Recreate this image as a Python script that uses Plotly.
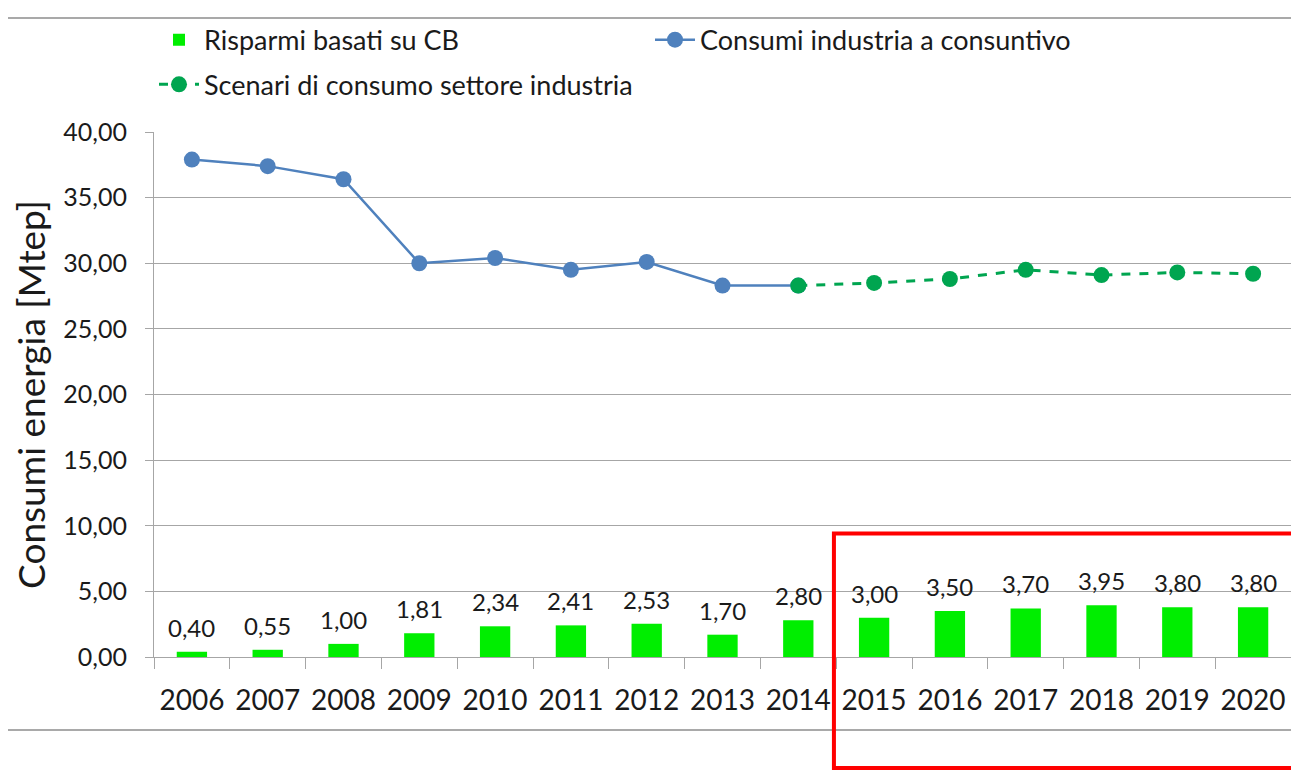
"""Risparmi CB e consumi energetici del settore industria."""

import plotly.graph_objects as go

years = [str(y) for y in range(2006, 2021)]

# Risparmi basati su CB [Mtep]
risparmi = [0.40, 0.55, 1.00, 1.81, 2.34, 2.41, 2.53, 1.70, 2.80,
            3.00, 3.50, 3.70, 3.95, 3.80, 3.80]

# Consumi industria a consuntivo (2006-2014)
consuntivo_years = years[:9]
consuntivo = [37.9, 37.4, 36.4, 30.0, 30.4, 29.5, 30.1, 28.3, 28.3]

# Scenari di consumo settore industria (2014-2020)
scenari_years = years[8:]
scenari = [28.3, 28.5, 28.8, 29.5, 29.1, 29.3, 29.2]

y_ticks = [0, 5, 10, 15, 20, 25, 30, 35, 40]

FONT = "Lato"
TEXT_COLOR = "#1a1a1a"
GRID = "#a6a6a6"

bar_labels = [f"{v:.2f}".replace(".", ",") for v in risparmi]

fig = go.Figure()

fig.add_trace(
    go.Bar(
        x=years,
        y=risparmi,
        name="Risparmi basati su CB",
        marker=dict(color="#00ee00", line=dict(width=0)),
        legend="legend",
    )
)

fig.add_trace(
    go.Scatter(
        x=consuntivo_years,
        y=consuntivo,
        name="Consumi industria a consuntivo",
        mode="lines+markers",
        line=dict(color="#4f81bd", width=2.5),
        marker=dict(color="#4f81bd", size=16),
        legend="legend",
    )
)

fig.add_trace(
    go.Scatter(
        x=scenari_years,
        y=scenari,
        name="Scenari di consumo settore industria",
        mode="lines+markers",
        line=dict(color="#00a550", width=3, dash="dash"),
        marker=dict(color="#00a550", size=16),
        legend="legend2",
    )
)

# value labels above the bars (category axis -> use serial index)
for i, (value, label) in enumerate(zip(risparmi, bar_labels)):
    fig.add_annotation(
        x=i,
        y=value,
        xref="x",
        yref="y",
        text=label,
        showarrow=False,
        yanchor="bottom",
        yshift=8,
        font=dict(family=FONT, size=24, color=TEXT_COLOR),
    )

legend_style = dict(
    orientation="h",
    xanchor="left",
    yanchor="middle",
    bgcolor="rgba(0,0,0,0)",
    entrywidth=441,
    entrywidthmode="pixels",
    font=dict(family=FONT, size=27, color=TEXT_COLOR),
    traceorder="normal",
    itemwidth=40,
)

# the page body adds an 8px offset, so the figure is shifted accordingly
fig.update_layout(
    width=1283,
    height=764,
    paper_bgcolor="white",
    plot_bgcolor="white",
    separators=",.",
    font=dict(family=FONT, color=TEXT_COLOR),
    margin=dict(l=146, r=0, t=124, b=115, autoexpand=False),
    bargap=0.6,
    showlegend=True,
    legend=dict(x=0.0, y=1.175, **legend_style),
    legend2=dict(x=0.0, y=1.09, **legend_style),
    xaxis=dict(
        type="category",
        tickfont=dict(family=FONT, size=28, color=TEXT_COLOR),
        ticks="outside",
        tickson="boundaries",
        ticklen=11,
        tickcolor=GRID,
        ticklabelstandoff=18,
        showline=True,
        linecolor=GRID,
        linewidth=1,
        showgrid=False,
        range=[-0.5, 14.5],
        automargin=False,
    ),
    yaxis=dict(
        range=[0, 40],
        tickvals=y_ticks,
        tickformat=".2f",
        tickfont=dict(family=FONT, size=25, color=TEXT_COLOR),
        ticks="outside",
        ticklen=8,
        tickcolor=GRID,
        ticklabelstandoff=13,
        showline=True,
        linecolor=GRID,
        linewidth=1,
        showgrid=True,
        gridcolor=GRID,
        gridwidth=1,
        zeroline=False,
        automargin=False,
        title=dict(
            text="Consumi energia [Mtep]",
            font=dict(family=FONT, size=37, color=TEXT_COLOR),
            standoff=8,
        ),
    ),
    shapes=[
        # slide decoration lines
        dict(type="line", xref="paper", yref="paper",
             x0=-0.14, x1=1.0, y0=1.217, y1=1.217,
             line=dict(color="#8c8c8c", width=1.5)),
        dict(type="line", xref="paper", yref="paper",
             x0=-0.14, x1=1.0, y0=-0.139, y1=-0.139,
             line=dict(color="#8c8c8c", width=1.5)),
        # highlight box 2015-2020
        dict(type="rect", xref="paper", yref="paper",
             x0=0.598, x1=1.1, y0=0.2352, y1=-0.2114,
             line=dict(color="#ff0000", width=4)),
    ],
)

fig.write_html("out.html")
